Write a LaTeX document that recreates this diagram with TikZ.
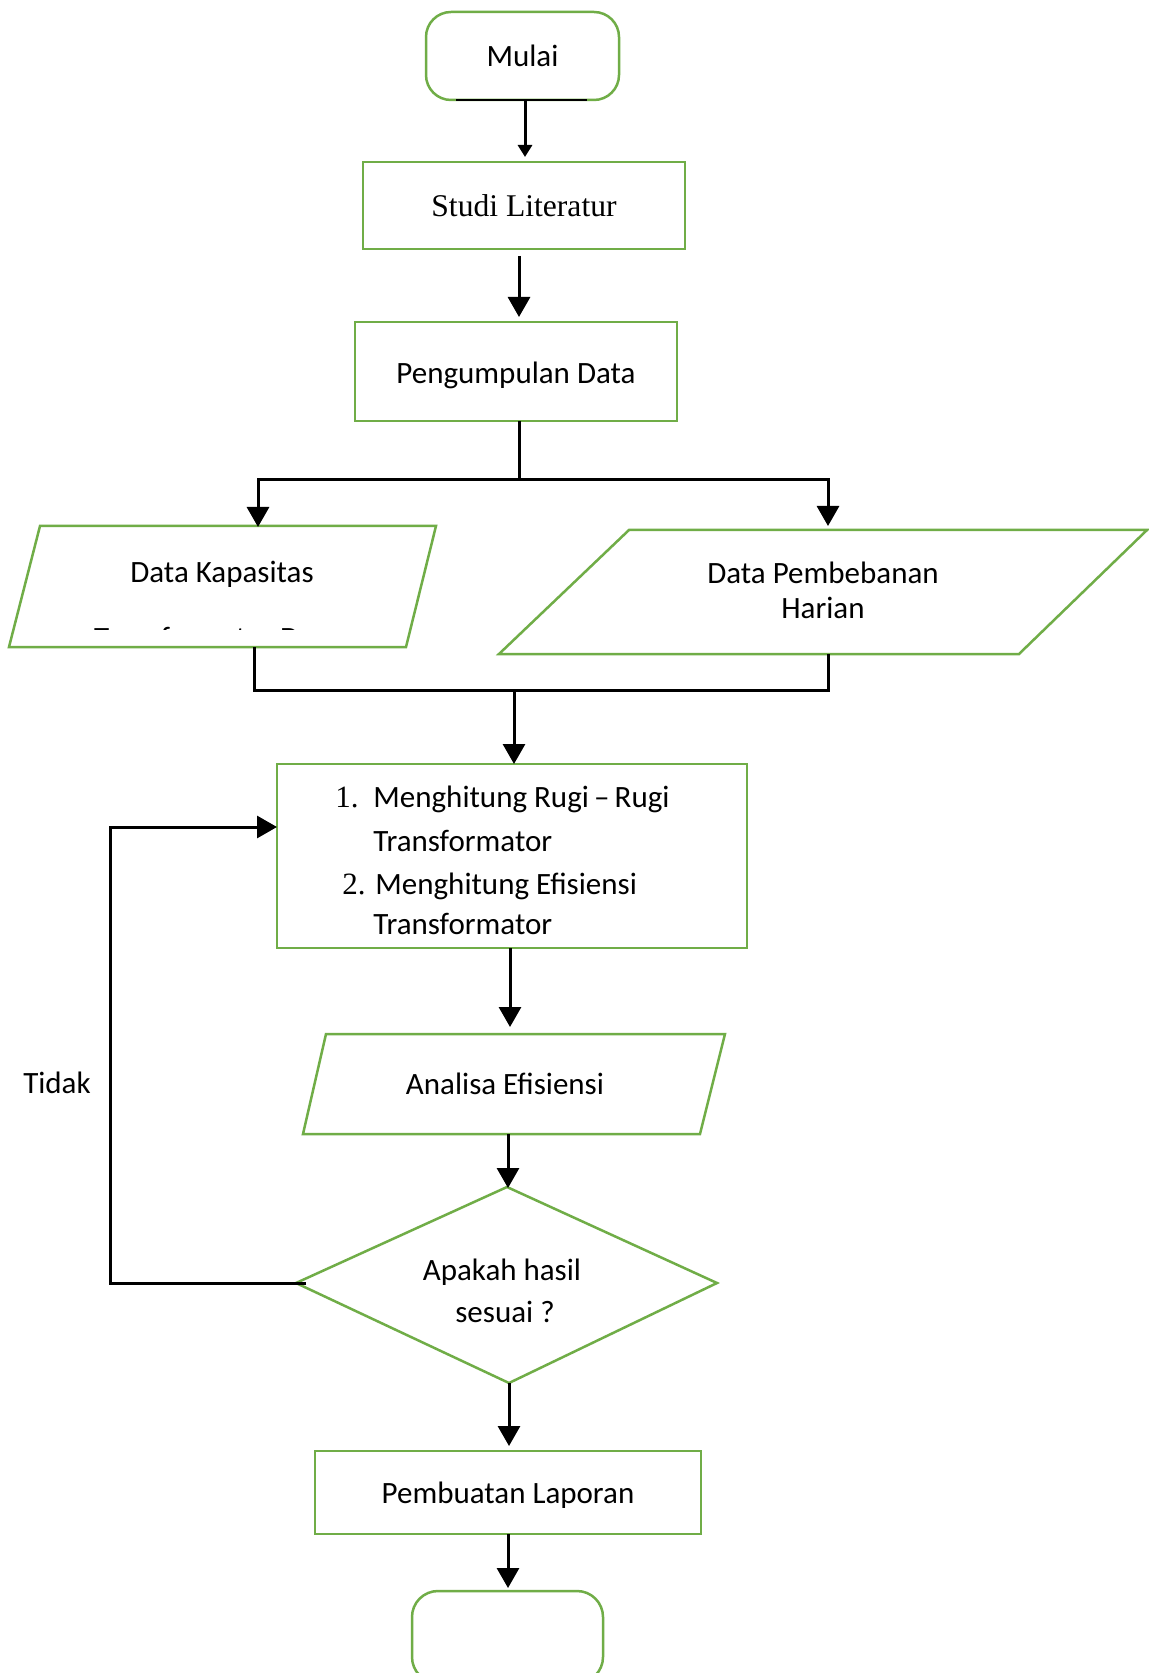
\documentclass[tikz,border=0pt]{standalone}
\usepackage{fontspec}
\setmainfont{Carlito}
\newfontfamily\timesfam{Liberation Serif}
\usetikzlibrary{arrows.meta}
\definecolor{ogreen}{RGB}{112,173,71}
\begin{document}
\begin{tikzpicture}[x=0.5pt,y=-0.5pt,
  gbox/.style={draw=ogreen, line width=1.25pt, inner sep=0pt, font=\fontsize{15.5}{19}\selectfont},
  gline/.style={draw=ogreen, line width=1.25pt, line join=miter},
  conn/.style={draw=black, line width=1.5pt},
  arr/.style={conn, -{Triangle[length=10pt,width=11pt]}},
  smallarr/.style={draw=black, line width=1.5pt, -{Triangle[length=6pt,width=7pt]}},
  lbl/.style={font=\fontsize{15.5}{19}\selectfont, inner sep=0pt, anchor=base},
  lblw/.style={font=\fontsize{15.5}{19}\selectfont, inner sep=0pt, anchor=base west},
]
\useasboundingbox (0,0) rectangle (1149,1673);
\fill[white] (0,0) rectangle (1149,1673);
\clip (0,0) rectangle (1149,1673);

% ---- shapes ----
\node[gbox, rounded corners=12.5pt, minimum width=96.5pt, minimum height=44pt] (mulai) at (522.5,56) {Mulai};
\draw[black, line width=1pt] (456,100) -- (587,100);

\node[gbox, minimum width=161pt, minimum height=43.5pt, font=\timesfam\fontsize{15.8}{19}\selectfont] (studi) at (524,205.5) {Studi Literatur};

\node[gbox, minimum width=161pt, minimum height=49.5pt] (peng) at (516,371.5) {\raisebox{-2pt}[\height][\depth]{Pengumpulan Data}};

% Data Kapasitas parallelogram
\draw[gline] (40,526) -- (436,526) -- (406,647) -- (9,647) -- cycle;
\node[lbl] (kap) at (222,582) {Data Kapasitas};
\begin{scope}
  \clip (0,600) rectangle (460,629);
  \node[lbl] (kap2) at (218,648) {Transformator Daya};
\end{scope}

% Data Pembebanan parallelogram
\draw[gline] (629,530) -- (1147,530) -- (1019,654) -- (499,654) -- cycle;
\node[lbl] (har1) at (823,583) {Data Pembebanan};
\node[lbl] (har2) at (823,618) {Harian};

% Menghitung box
\node[gbox, minimum width=235pt, minimum height=92pt] (hit) at (512,856) {};
\node[lblw, font=\timesfam\fontsize{15.5}{19}\selectfont] (n1) at (335,807) {1.};
\node[lblw] (h1) at (373,807) {Menghitung Rugi\,--\,Rugi};
\node[lblw] (h2) at (373,851) {Transformator};
\node[lblw, font=\timesfam\fontsize{15.5}{19}\selectfont] (n2) at (342,894) {2.};
\node[lblw] (h3) at (375,894) {Menghitung Efisiensi};
\node[lblw] (h4) at (373,934) {Transformator};

% Analisa parallelogram
\draw[gline] (326,1034) -- (725,1034) -- (700,1134) -- (303,1134) -- cycle;
\node[lbl] (ana) at (505,1094) {Analisa Efisiensi};

% Decision diamond
\draw[gline] (507,1187) -- (717,1283) -- (509,1383) -- (296,1283) -- cycle;
\node[lbl] (dec1) at (502,1280) {Apakah hasil};
\node[lbl] (dec2) at (505,1322) {sesuai ?};

\node[gbox, minimum width=193pt, minimum height=41.5pt] (lap) at (508,1492.5) {\raisebox{-1.5pt}[\height][\depth]{Pembuatan Laporan}};

\node[gbox, rounded corners=13pt, minimum width=95.5pt, minimum height=46pt] (fin) at (507.5,1637) {};

\node[lbl] (tidak) at (57,1093) {Tidak};

% ---- connector coordinates ----
\coordinate (c1a) at (525,100);
\coordinate (c1b) at (525,157);
\coordinate (c2a) at (519,256);
\coordinate (c2b) at (519,317);
\coordinate (c3a) at (519,421);
\coordinate (jn1) at (519,480);
\coordinate (kaptop) at (258,527);
\coordinate (hartop) at (828,526);
\coordinate (kapbot) at (254,647);
\coordinate (harbot) at (828,654);
\coordinate (jl) at (254,690);
\coordinate (jr) at (828,690);
\coordinate (jm) at (514,690);
\coordinate (hittop) at (514,764);
\coordinate (c5a) at (510,948);
\coordinate (c5b) at (510,1027);
\coordinate (c6a) at (508,1134);
\coordinate (c6b) at (508,1188);
\coordinate (dleft) at (306,1283);
\coordinate (lcorner) at (110,1283);
\coordinate (hitleft) at (277,827);
\coordinate (c8a) at (509,1383);
\coordinate (c8b) at (509,1446);
\coordinate (c9a) at (508,1534);
\coordinate (c9b) at (508,1588);

% ---- connectors ----
\draw[smallarr] (c1a) -- (c1b);
\draw[arr] (c2a) -- (c2b);
\draw[conn] (c3a) -- (jn1);
\draw[arr] (jn1) -| (kaptop);
\draw[arr] (jn1) -| (hartop);
\draw[conn] (kapbot) -- (jl) -- (jr) -- (harbot);
\draw[arr] (jm) -- (hittop);
\draw[arr] (c5a) -- (c5b);
\draw[arr] (c6a) -- (c6b);
\draw[arr] (dleft) -- (lcorner) |- (hitleft);
\draw[arr] (c8a) -- (c8b);
\draw[arr] (c9a) -- (c9b);
\end{tikzpicture}
\end{document}
